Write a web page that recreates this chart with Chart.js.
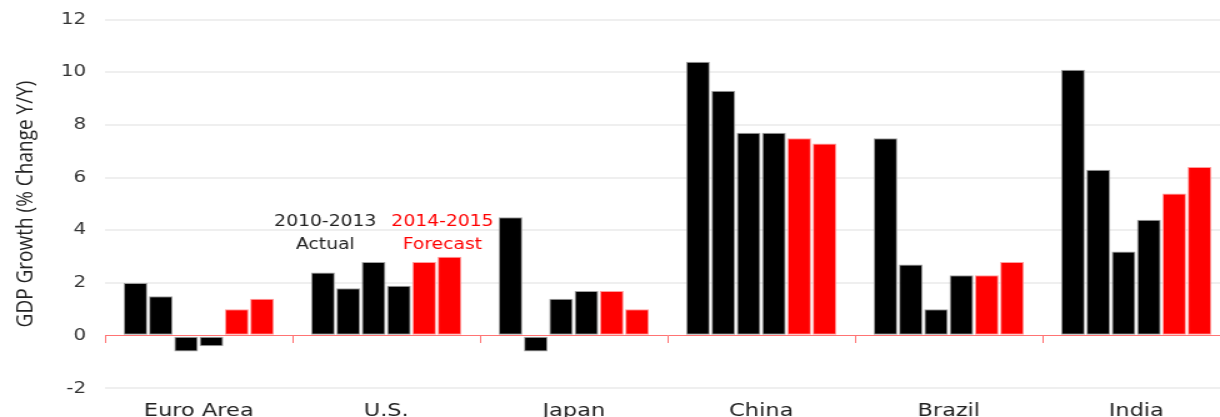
<!DOCTYPE html>
<html>
<head>
<meta charset="utf-8">
<script src="https://cdn.jsdelivr.net/npm/chart.js@4"></script>
<style>
  html, body { margin: 0; padding: 0; background: #fff; overflow: hidden; }
  #wrap { width: 986px; height: 431px; margin-top: -5px; transform: scaleX(1.25); transform-origin: 0 0; }
</style>
</head>
<body>
<div id="wrap"><canvas id="chart" width="986" height="431"></canvas></div>
<script>
var countries = ["Euro Area", "U.S.", "Japan", "China", "Brazil", "India"];
var years = ["2010", "2011", "2012", "2013", "2014", "2015"];
var g2010 = [2.0, 2.4, 4.5, 10.4, 7.5, 10.1];
var g2011 = [1.5, 1.8, -0.6, 9.3, 2.7, 6.3];
var g2012 = [-0.6, 2.8, 1.4, 7.7, 1.0, 3.2];
var g2013 = [-0.4, 1.9, 1.7, 7.7, 2.3, 4.4];
var g2014 = [1.0, 2.8, 1.7, 7.5, 2.3, 5.4];
var g2015 = [1.4, 3.0, 1.0, 7.3, 2.8, 6.4];
var yTicks = [-2, 0, 2, 4, 6, 8, 10, 12];

// note text next to the U.S. bars: [text, colour, category, shift in category widths, y value]
var notes = [
  ["2010-2013", "#222", 1, -0.325, 4.3],
  ["Actual", "#222", 1, -0.325, 3.45],
  ["2014-2015", "#ff0000", 1, 0.3, 4.3],
  ["Forecast", "#ff0000", 1, 0.3, 3.45]
];

var black = "#000000", red = "#ff0000";
var series = [g2010, g2011, g2012, g2013, g2014, g2015];
var datasets = [];
for (var i = 0; i < series.length; i++) {
  var fc = i >= 4;
  datasets.push({
    label: years[i],
    data: series[i],
    backgroundColor: fc ? red : black,
    borderColor: fc ? "#ff9d9d" : "#a0a0a0",
    borderWidth: 1,
    borderSkipped: false,
    categoryPercentage: 0.81,
    barPercentage: 0.94
  });
}

var notePlugin = {
  id: "notes",
  afterDatasetsDraw: function(chart) {
    var ctx = chart.ctx, x = chart.scales.x, y = chart.scales.y;
    var cw = x.getPixelForValue(1) - x.getPixelForValue(0);
    ctx.save();
    ctx.font = "15px 'DejaVu Sans'";
    ctx.textAlign = "center";
    ctx.textBaseline = "middle";
    notes.forEach(function(n) {
      ctx.fillStyle = n[1];
      ctx.fillText(n[0], x.getPixelForValue(n[2]) + n[3] * cw, y.getPixelForValue(n[4]));
    });
    ctx.restore();
  }
};

window.onload = function() {
  var ctx = document.getElementById("chart").getContext("2d");
  window.theChart = new Chart(ctx, {
    type: "bar",
    data: { labels: countries, datasets: datasets },
    plugins: [notePlugin],
    options: {
      responsive: false,
      animation: false,
      layout: { padding: { top: 5, right: 2, left: 0, bottom: 0 } },
      plugins: { legend: { display: false }, tooltip: { enabled: false } },
      scales: {
        x: {
          position: "bottom",
          grid: { display: false },
          border: { display: false },
          ticks: { color: "#222", padding: 4, font: { family: "'DejaVu Sans'", size: 18 } }
        },
        x2: {
          axis: "x",
          type: "category",
          labels: countries,
          position: { y: 0 },
          offset: true,
          ticks: { display: false },
          grid: { drawOnChartArea: false, drawTicks: true, tickLength: 7, offset: true, color: "rgba(255,90,90,0.85)" },
          border: { display: true, color: "rgba(255,90,90,0.85)", width: 1 }
        },
        y: {
          min: -2,
          max: 12,
          afterFit: function(s) { s.width = 84; },
          afterBuildTicks: function(s) { s.ticks = yTicks.map(function(v) { return { value: v }; }); },
          border: { display: false },
          grid: {
            drawTicks: false,
            lineWidth: 2,
            color: function(c) { return c.tick && c.tick.value === 0 ? "rgba(0,0,0,0)" : "#efefef"; }
          },
          ticks: { color: "#333", padding: 15, font: { family: "'DejaVu Sans'", size: 16 } },
          title: {
            display: true,
            text: "GDP Growth (% Change Y/Y)",
            color: "#222",
            padding: { top: 9, bottom: 0 },
            font: { family: "'Open Sans'", size: 19 }
          }
        }
      }
    }
  });
};
</script>
</body>
</html>
